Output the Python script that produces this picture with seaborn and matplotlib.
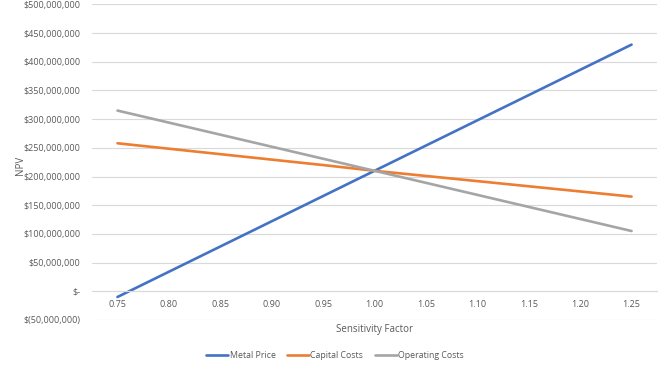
import matplotlib
matplotlib.use("Agg")
import matplotlib.pyplot as plt
import seaborn as sns
import pandas as pd
from matplotlib.ticker import FuncFormatter
from matplotlib.lines import Line2D

factors = [0.75, 0.80, 0.85, 0.90, 0.95, 1.00, 1.05, 1.10, 1.15, 1.20, 1.25]
metal_price = [-10, 34, 78, 122, 166, 210, 254, 298, 342, 386, 430]
capital_costs = [258, 248.5, 239, 229.5, 220, 210, 201, 192, 183, 174, 165]
operating_costs = [315, 294, 273, 252, 231, 210, 189, 168, 147, 126, 105]
series_names = ["Metal Price", "Capital Costs", "Operating Costs"]
y_ticks = [-50, 0, 50, 100, 150, 200, 250, 300, 350, 400, 450, 500]

rows = []
for name, vals in zip(series_names, [metal_price, capital_costs, operating_costs]):
    for f, v in zip(factors, vals):
        rows.append({"Sensitivity Factor": f, "NPV": v * 1e6, "Series": name})
df = pd.DataFrame(rows)

sns.set_theme(style="white")
plt.rcParams["font.family"] = ["Open Sans", "DejaVu Sans"]

fig = plt.figure(figsize=(6.7, 3.72), dpi=100)
ax = fig.add_axes([0.137, 0.140, 0.844, 0.848])

palette = {"Metal Price": "#4472C4", "Capital Costs": "#ED7D31", "Operating Costs": "#A5A5A5"}
sns.lineplot(data=df, x="Sensitivity Factor", y="NPV", hue="Series",
             palette=palette, linewidth=1.9, ax=ax, legend=False)

ax.set_xlim(0.725, 1.275)
ax.set_ylim(-50e6, 500e6)
ax.set_yticks([t * 1e6 for t in y_ticks])
ax.set_xticks(factors)
ax.set_xticklabels([f"{f:.2f}" for f in factors])

def money(v, pos):
    if abs(v) < 1:
        return "$-"
    if v < 0:
        return "$({:,.0f})".format(-v)
    return "${:,.0f}".format(v)

ax.yaxis.set_major_formatter(FuncFormatter(money))
ax.grid(axis="y", color="#d9d9d9", linewidth=0.8)
ax.set_axisbelow(True)
for s in ["top", "right", "left"]:
    ax.spines[s].set_visible(False)
ax.spines["bottom"].set_position(("data", 0))
ax.spines["bottom"].set_color("#d9d9d9")
ax.spines["bottom"].set_linewidth(0.8)

ax.tick_params(axis="x", length=0, labelsize=6.5, colors="#595959", pad=6)
ax.tick_params(axis="y", length=0, labelsize=6.5, colors="#595959", pad=8)

ax.set_ylabel("NPV", fontsize=7, color="#595959")
ax.set_xlabel("Sensitivity Factor", fontsize=7, color="#595959")
ax.xaxis.set_label_coords(0.5, -0.012)
ax.yaxis.set_label_coords(-0.117, 0.49)

handles = [Line2D([0], [0], color=palette[n], lw=1.9) for n in series_names]
fig.legend(handles, series_names, loc="center", bbox_to_anchor=(0.5, 0.045),
           ncol=3, frameon=False, fontsize=6.3, handlelength=2.5,
           handletextpad=0.2, columnspacing=1.3, labelcolor="#595959")

fig.savefig("out.png", dpi=100)
